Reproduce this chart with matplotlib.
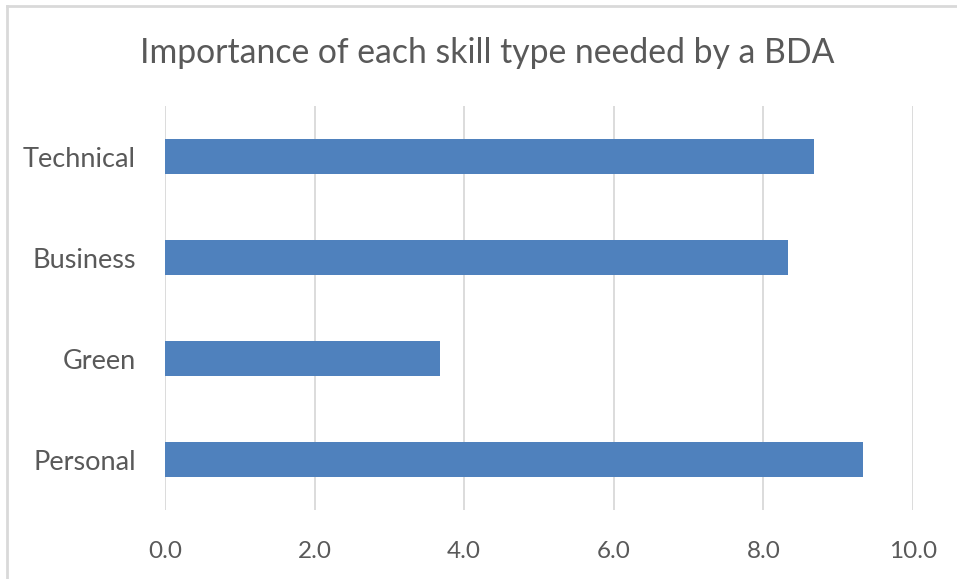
import matplotlib.pyplot as plt
from matplotlib.lines import Line2D

categories = ['Personal', 'Green', 'Business', 'Technical']
values = [9.33, 3.67, 8.33, 8.67]
xticks = [0, 2, 4, 6, 8, 10]
title = 'Importance of each skill type needed by a BDA'

plt.rcParams['font.family'] = ['Lato', 'DejaVu Sans']

W, H = 957, 579
fig = plt.figure(figsize=(W / 100, H / 100), dpi=100)
ax = fig.add_axes([165 / W, 1 - 510 / H, (913 - 165) / W, (510 - 106) / H])

ax.barh(range(len(categories)), values, height=0.35, color='#4f81bd', zorder=3)
ax.set_xlim(0, 10)
ax.set_ylim(-0.5, len(categories) - 0.5)
ax.set_xticks(xticks)
ax.set_xticklabels(['%.1f' % t for t in xticks])
ax.set_yticks(range(len(categories)))
ax.set_yticklabels(categories)
ax.grid(axis='x', color='#d9d9d9', linewidth=1.3, zorder=0)
ax.tick_params(length=0, colors='#595959')
ax.tick_params(axis='x', pad=22, labelsize=17.5)
ax.tick_params(axis='y', pad=21, labelsize=19.5)
for s in ax.spines.values():
    s.set_visible(False)

fig.text(487 / W, 1 - 53 / H, title, ha='center', va='center',
         fontsize=24.3, color='#595959')

# chart area border (left and top visible)
fig.add_artist(Line2D([7 / W, 7 / W], [0, 1 - 6 / H], color='#d9d9d9',
                      linewidth=2, transform=fig.transFigure))
fig.add_artist(Line2D([7 / W, 1], [1 - 6 / H, 1 - 6 / H], color='#d9d9d9',
                      linewidth=2, transform=fig.transFigure))

fig.savefig('out.png', dpi=100)
